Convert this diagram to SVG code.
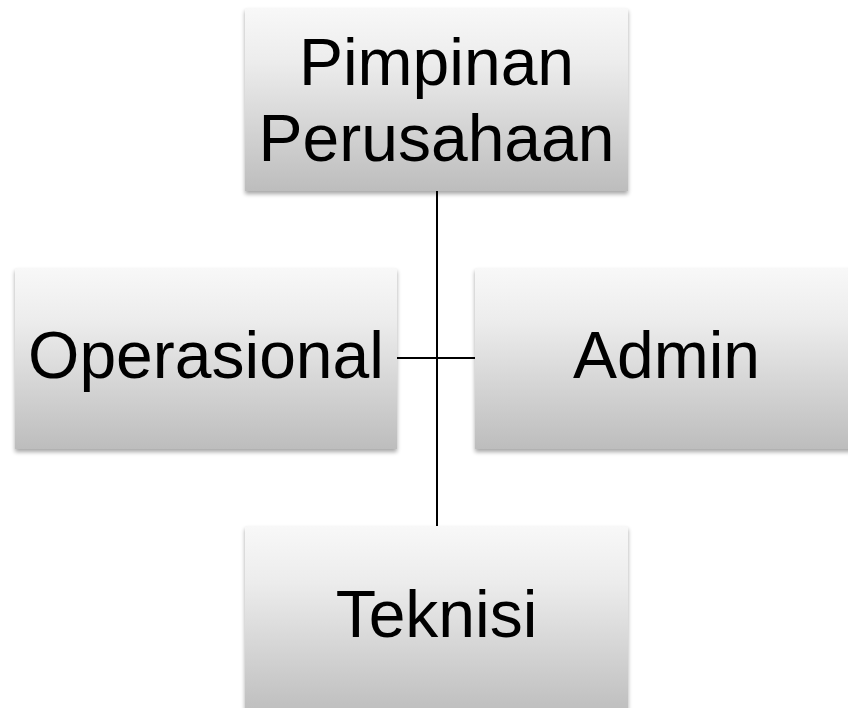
<svg xmlns="http://www.w3.org/2000/svg" width="848" height="708" viewBox="0 0 848 708">
<defs>
<linearGradient id="g" x1="0" y1="0" x2="0" y2="1">
<stop offset="0" stop-color="#f8f8f8"/>
<stop offset="0.3" stop-color="#ececec"/>
<stop offset="1" stop-color="#bdbdbd"/>
</linearGradient>
<filter id="sh" x="-5%" y="-5%" width="110%" height="115%">
<feGaussianBlur in="SourceAlpha" stdDeviation="2"/>
<feOffset dy="3" result="b"/>
<feComponentTransfer><feFuncA type="linear" slope="0.35"/></feComponentTransfer>
<feMerge><feMergeNode/><feMergeNode in="SourceGraphic"/></feMerge>
</filter>
</defs>
<style>
.box{fill:url(#g);filter:url(#sh)}
.t{font-family:"Liberation Sans",Arial,sans-serif;font-size:66px;fill:#000;text-anchor:middle}
.c{stroke:#000;stroke-width:2;fill:none}
</style>
<rect width="848" height="708" fill="#fff"/>
<g id="connectors">
<line class="c" x1="437" y1="191" x2="437" y2="526"/>
<line class="c" x1="397" y1="358" x2="475" y2="358"/>
</g>
<g id="pimpinan">
<rect class="box" x="245" y="8" width="383" height="183"/>
<text class="t" x="436.5" y="85">Pimpinan</text>
<text class="t" x="436.5" y="161">Perusahaan</text>
</g>
<g id="operasional">
<rect class="box" x="15" y="268" width="382" height="181"/>
<text class="t" x="206" y="378">Operasional</text>
</g>
<g id="admin">
<rect class="box" x="475" y="268" width="383" height="181"/>
<text class="t" x="666.5" y="378">Admin</text>
</g>
<g id="teknisi">
<rect class="box" x="245" y="526" width="383" height="190"/>
<text class="t" x="436.5" y="637">Teknisi</text>
</g>
</svg>
